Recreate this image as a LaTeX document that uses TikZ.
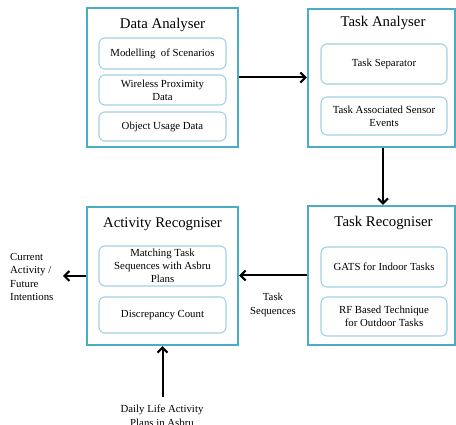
\documentclass[tikz,border=0pt]{standalone}
\usepackage{fontspec}
\setmainfont{Liberation Serif}
\usetikzlibrary{arrows.meta}
\definecolor{outerc}{HTML}{4BACC6}
\definecolor{innerc}{HTML}{9FD3E2}
\tikzset{
  outerbox/.style={draw=outerc, line width=2.4pt, minimum width=#1, inner sep=0pt},
  innerbox/.style={draw=innerc, line width=1.1pt, rounded corners=6pt, inner sep=0pt, align=center, font=\fontsize{10.8}{13}\selectfont},
  titletext/.style={font=\fontsize{14.8}{17}\selectfont, inner sep=0pt},
  plain/.style={font=\fontsize{10.8}{13.3}\selectfont, inner sep=0pt},
  arr/.style={line width=2pt, -{Straight Barb[length=5pt,width=10pt]}}
}
\begin{document}
\begin{tikzpicture}[x=1pt,y=-1pt]
\useasboundingbox (0,0) rectangle (456,425);
% outer boxes
\node[outerbox=151pt, minimum height=139pt] (da) at (162.5,77.5) {};
\node[outerbox=147pt, minimum height=138pt] (ta) at (381.5,78) {};
\node[outerbox=147pt, minimum height=139pt] (tr) at (381.5,275.5) {};
\node[outerbox=151pt, minimum height=138pt] (ar) at (162.5,276) {};
% titles
\node[titletext] (dat) at (162.5,25) {Data Analyser};
\node[titletext] (tat) at (383,23) {Task Analyser};
\node[titletext] (trt) at (383.5,223) {Task Recogniser};
\node[titletext] (art) at (162.5,224) {Activity Recogniser};
% inner boxes: Data Analyser
\node[innerbox, minimum width=127pt, minimum height=31pt] (da1) at (162.5,53.5) {Modelling \ of Scenarios};
\node[innerbox, minimum width=127pt, minimum height=30pt] (da2) at (162.5,90) {Wireless Proximity\\Data};
\node[innerbox, minimum width=127pt, minimum height=29pt] (da3) at (162.5,126.5) {Object Usage Data};
% Task Analyser
\node[innerbox, minimum width=126pt, minimum height=40pt] (ta1) at (384,64) {Task Separator};
\node[innerbox, minimum width=126pt, minimum height=38pt] (ta2) at (384,116) {Task Associated Sensor\\Events};
% Task Recogniser
\node[innerbox, minimum width=126pt, minimum height=40pt] (tr1) at (384,267) {GATS for Indoor Tasks};
\node[innerbox, minimum width=126pt, minimum height=39pt] (tr2) at (384,316.5) {RF Based Technique\\for Outdoor Tasks};
% Activity Recogniser
\node[innerbox, minimum width=127pt, minimum height=40pt] (ar1) at (162.5,266) {Matching Task\\Sequences with Asbru\\Plans};
\node[innerbox, minimum width=127pt, minimum height=36pt] (ar2) at (162.5,315) {Discrepancy Count};
% labels
\node[plain, align=left, anchor=west] (out) at (10,277) {Current\\Activity /\\Future\\Intentions};
\node[plain, align=center] (seq) at (273,305) {Task\\Sequences};
\node[plain, align=center, anchor=north] (plans) at (162,405) {Daily Life Activity\\Plans in Asbru};
\coordinate (outend) at (63,276);
\coordinate (planstart) at (162.5,397);
% connectors
\draw[arr] (da.east) -- (da.east -| ta.west);
\draw[arr] (ta.south -| 383,0) -- (tr.north -| 383,0);
\draw[arr] (tr.west) -- (tr.west -| ar.east);
\draw[arr] (ar.west) -- (outend);
\draw[arr] (planstart) -- (ar.south);
\end{tikzpicture}
\end{document}
